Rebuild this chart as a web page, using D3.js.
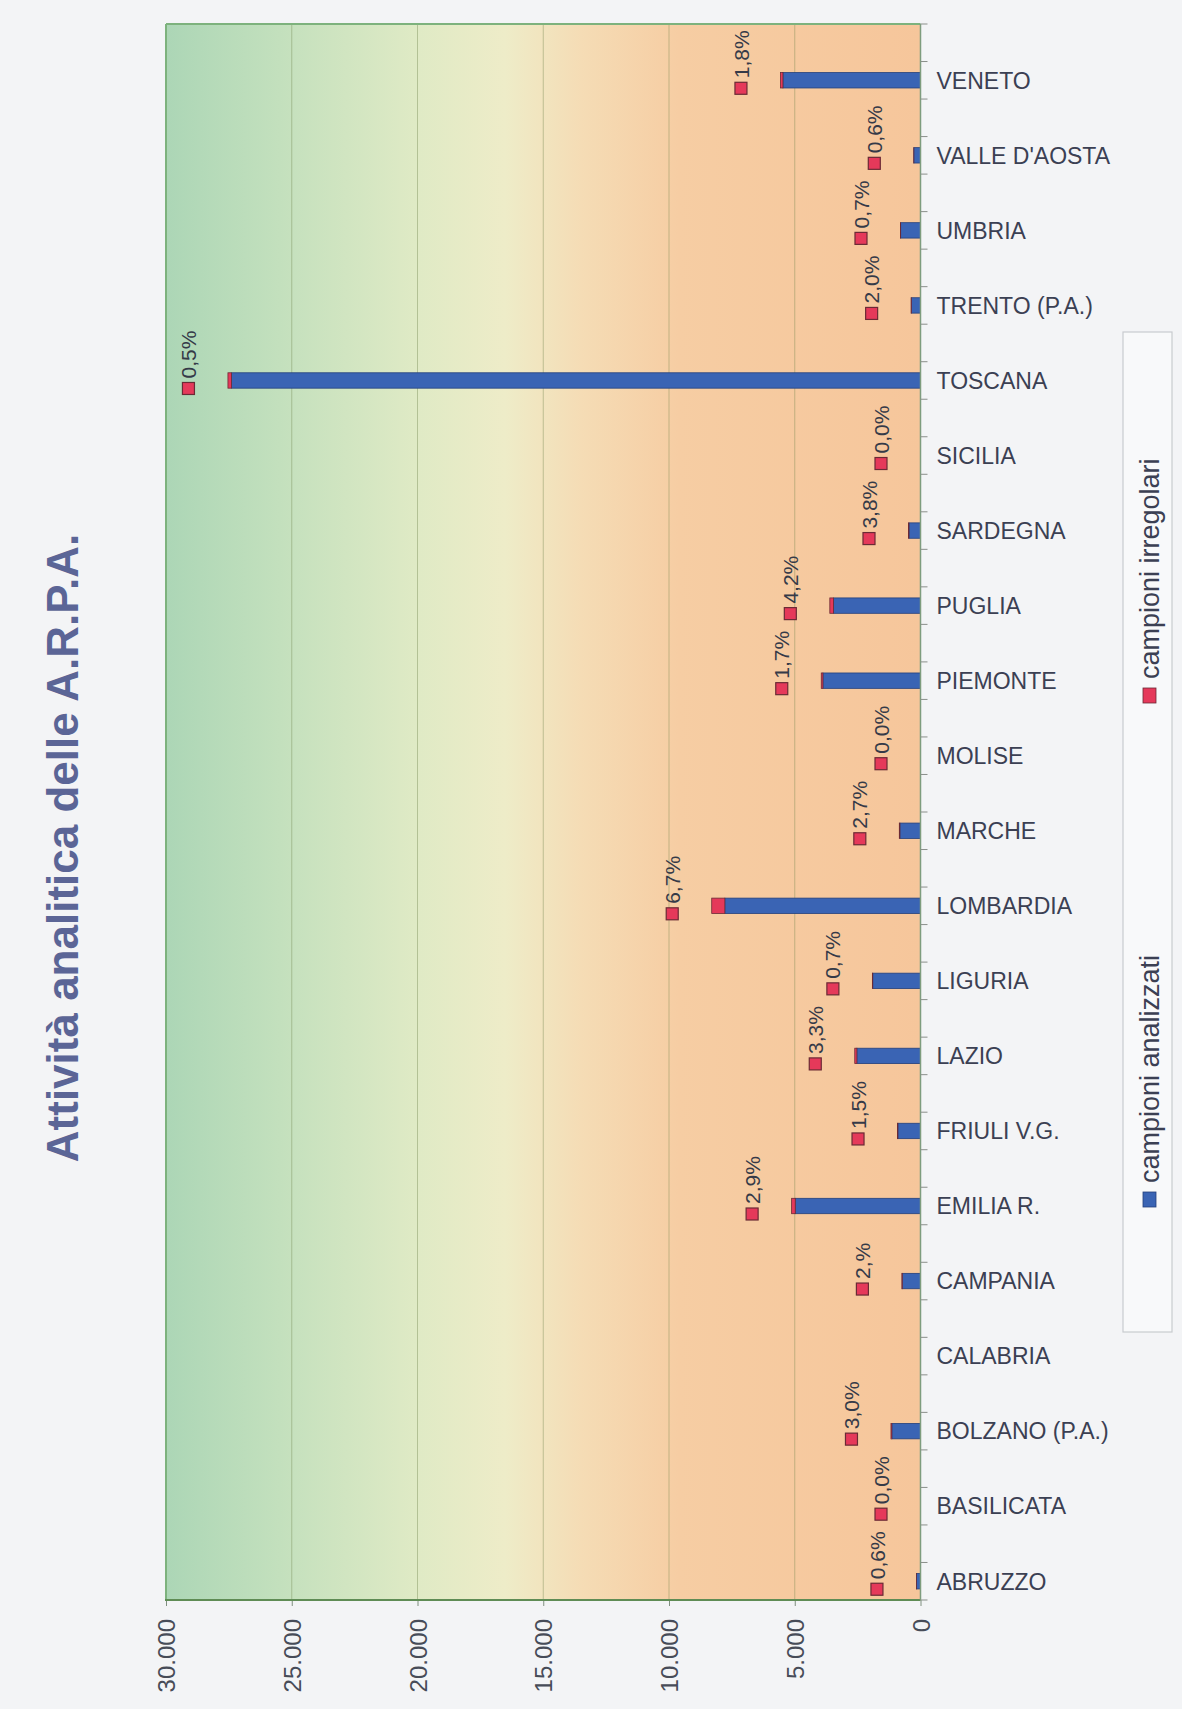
<!DOCTYPE html>
<html lang="it">
<head>
<meta charset="utf-8">
<title>Attività analitica delle A.R.P.A.</title>
<script src="https://cdn.jsdelivr.net/npm/d3@7"></script>
<style>
  html, body { margin: 0; padding: 0; background: #f3f4f6; }
  svg { display: block; font-family: "Liberation Sans", Arial, Helvetica, sans-serif; }
</style>
</head>
<body>
<svg id="chart" width="1182" height="1709"></svg>
<script>
// Regioni / province autonome, nell'ordine dell'asse delle categorie (dal basso verso l'alto)
const categorie = [
  "ABRUZZO", "BASILICATA", "BOLZANO (P.A.)", "CALABRIA", "CAMPANIA",
  "EMILIA R.", "FRIULI V.G.", "LAZIO", "LIGURIA", "LOMBARDIA",
  "MARCHE", "MOLISE", "PIEMONTE", "PUGLIA", "SARDEGNA",
  "SICILIA", "TOSCANA", "TRENTO (P.A.)", "UMBRIA", "VALLE D'AOSTA", "VENETO"
];

// Campioni analizzati per regione
const campioniAnalizzati = [
  160, 0, 1140, 0, 725,
  4980, 900, 2530, 1900, 7780,
  820, 0, 3880, 3460, 460,
  0, 27400, 365, 790, 265, 5470
];

// Quota di campioni irregolari (etichette dati)
const etichetteIrregolari = [
  "0,6%", "0,0%", "3,0%", "", "2,%",
  "2,9%", "1,5%", "3,3%", "0,7%", "6,7%",
  "2,7%", "0,0%", "1,7%", "4,2%", "3,8%",
  "0,0%", "0,5%", "2,0%", "0,7%", "0,6%", "1,8%"
];

// Valori dell'asse
const tickValori = [0, 5000, 10000, 15000, 20000, 25000, 30000];

const serie = ["campioni analizzati", "campioni irregolari"];

// ---------------------------------------------------------------
const pct = s => s === "" ? null : parseFloat(s.replace("%", "").replace(",", "."));

const dati = categorie.map((c, i) => {
  const analizzati = campioniAnalizzati[i];
  const p = pct(etichetteIrregolari[i]);
  const irregolari = p == null ? 0 : analizzati * p / 100;
  return { categoria: c, analizzati, irregolari, totale: analizzati + irregolari, etichetta: etichetteIrregolari[i] };
});

// Ogni categoria è seguita da una riga vuota sull'asse
const slot = [];
categorie.forEach((c, i) => { slot.push(c); slot.push("__vuoto" + i); });

const plot = { left: 166, right: 920.5, top: 24, bottom: 1600 };

const svg = d3.select("#chart");

const x = d3.scaleLinear().domain([0, 30000]).range([plot.right, plot.left]);
const y = d3.scaleBand().domain(slot).range([plot.bottom, plot.top]);
const yc = d => y(d) + y.bandwidth() / 2;
const barH = y.bandwidth() * 0.41;

const itLocale = d3.formatLocale({ decimal: ",", thousands: ".", grouping: [3], currency: ["€", ""] });
const fmt = itLocale.format(",");

const colori = { blu: "#3a64b4", bluBordo: "#24407c", rosso: "#e5395a", rossoBordo: "#6b2a35" };

// Sfondo dell'area del grafico (sfumatura verde → giallo → arancio)
const defs = svg.append("defs");
const grad = defs.append("linearGradient").attr("id", "sfondo")
  .attr("x1", "0%").attr("x2", "100%").attr("y1", "0%").attr("y2", "0%");
[
  [0, "#acd6b6"], [0.15, "#c3e0bd"], [0.33, "#dfeac5"], [0.45, "#eeecc8"],
  [0.55, "#f5dcb5"], [0.68, "#f6cda3"], [1, "#f6c69b"]
].forEach(([o, c]) => grad.append("stop").attr("offset", o).attr("stop-color", c));

svg.append("rect")
  .attr("x", plot.left).attr("y", plot.top)
  .attr("width", plot.right - plot.left).attr("height", plot.bottom - plot.top)
  .attr("fill", "url(#sfondo)");

// Griglia verticale
svg.append("g").selectAll("line")
  .data(tickValori.filter(v => v > 0 && v < 30000))
  .join("line")
  .attr("x1", d => x(d)).attr("x2", d => x(d))
  .attr("y1", plot.top).attr("y2", plot.bottom)
  .attr("stroke", "rgba(105,125,70,0.38)").attr("stroke-width", 1);

// Bordi superiore e sinistro
svg.append("line").attr("x1", plot.left).attr("x2", plot.right).attr("y1", plot.top).attr("y2", plot.top)
  .attr("stroke", "#7db27d").attr("stroke-width", 2);
svg.append("line").attr("x1", plot.left).attr("x2", plot.left).attr("y1", plot.top).attr("y2", plot.bottom)
  .attr("stroke", "#7db27d").attr("stroke-width", 2);

// Barre impilate: analizzati + irregolari
const barre = svg.append("g");
barre.selectAll("rect.analizzati")
  .data(dati.filter(d => d.analizzati > 0))
  .join("rect")
  .attr("class", "analizzati")
  .attr("x", d => x(d.analizzati))
  .attr("y", d => yc(d.categoria) - barH / 2)
  .attr("width", d => x(0) - x(d.analizzati))
  .attr("height", barH)
  .attr("fill", colori.blu).attr("stroke", colori.bluBordo).attr("stroke-width", 0.8);

barre.selectAll("rect.irregolari")
  .data(dati.filter(d => d.irregolari > 0))
  .join("rect")
  .attr("class", "irregolari")
  .attr("x", d => x(d.totale))
  .attr("y", d => yc(d.categoria) - barH / 2)
  .attr("width", d => x(d.analizzati) - x(d.totale))
  .attr("height", barH)
  .attr("fill", colori.rosso).attr("stroke", colori.rossoBordo).attr("stroke-width", 0.8);

// Etichette dati con chiave della legenda
const etich = svg.append("g").selectAll("g")
  .data(dati.filter(d => d.etichetta !== ""))
  .join("g")
  .attr("transform", d => `translate(${x(d.totale) - 39.5},${yc(d.categoria)})`);

etich.append("rect")
  .attr("x", -6).attr("y", 2).attr("width", 12).attr("height", 12)
  .attr("fill", colori.rosso).attr("stroke", colori.rossoBordo).attr("stroke-width", 1.2);

etich.append("text")
  .attr("transform", "translate(0,-2) rotate(-90)")
  .attr("dy", "0.36em")
  .attr("font-size", 21)
  .attr("fill", "#353a48")
  .text(d => d.etichetta);

// Asse dei valori
const asseX = svg.append("g")
  .attr("transform", `translate(0,${plot.bottom})`)
  .call(d3.axisBottom(x).tickValues(tickValori).tickSize(6).tickFormat(fmt));
asseX.select(".domain").remove();
asseX.selectAll(".tick line").attr("stroke", "#7f8f7f");
asseX.selectAll(".tick text")
  .attr("x", 0).attr("y", 0).attr("dy", "0.36em")
  .attr("transform", "translate(0,19) rotate(-90)")
  .attr("text-anchor", "end")
  .attr("font-size", 24)
  .attr("font-family", "\"Liberation Sans\", Arial, sans-serif")
  .attr("fill", "#474c58");

svg.append("line").attr("x1", plot.left - 1).attr("x2", plot.right).attr("y1", plot.bottom).attr("y2", plot.bottom)
  .attr("stroke", "#5f8c55").attr("stroke-width", 2);

// Asse delle categorie
const asseY = svg.append("g");
asseY.append("line")
  .attr("x1", plot.right).attr("x2", plot.right).attr("y1", plot.top).attr("y2", plot.bottom)
  .attr("stroke", "#7e9c7e").attr("stroke-width", 1.5);
const bordi = slot.map(s => y(s)).concat([plot.bottom]);
asseY.selectAll("line.tick")
  .data(bordi)
  .join("line")
  .attr("class", "tick")
  .attr("x1", plot.right).attr("x2", plot.right + 7)
  .attr("y1", d => d).attr("y2", d => d)
  .attr("stroke", "#8a8f8a").attr("stroke-width", 1);
asseY.selectAll("text")
  .data(categorie)
  .join("text")
  .attr("x", plot.right + 16)
  .attr("y", d => yc(d))
  .attr("dy", "0.36em")
  .attr("font-size", 23)
  .attr("fill", "#3b4053")
  .text(d => d);

// Titolo
svg.append("text")
  .attr("transform", "translate(78,848) rotate(-90)")
  .attr("text-anchor", "middle")
  .attr("font-size", 44)
  .attr("font-weight", "bold")
  .attr("fill", "#5b6596")
  .text("Attività analitica delle A.R.P.A.");

// Legenda
const leg = svg.append("g");
leg.append("rect")
  .attr("x", 1123).attr("y", 332).attr("width", 49).attr("height", 1000)
  .attr("fill", "#f8f9fa").attr("stroke", "#c9cbcf").attr("stroke-width", 1.2);
const legVoci = [
  { nome: serie[0], colore: colori.blu, bordo: colori.bluBordo, y0: 1207 },
  { nome: serie[1], colore: colori.rosso, bordo: colori.rossoBordo, y0: 703 }
];
const voce = leg.selectAll("g.voce").data(legVoci).join("g").attr("class", "voce")
  .attr("transform", d => `translate(1149.5,${d.y0})`);
voce.append("rect")
  .attr("x", -6.5).attr("y", -15).attr("width", 13).attr("height", 15)
  .attr("fill", d => d.colore).attr("stroke", d => d.bordo).attr("stroke-width", 0.8);
voce.append("text")
  .attr("transform", "translate(9.5,-24) rotate(-90)")
  .attr("font-size", 27)
  .attr("fill", "#3b4053")
  .text(d => d.nome);
</script>
</body>
</html>
